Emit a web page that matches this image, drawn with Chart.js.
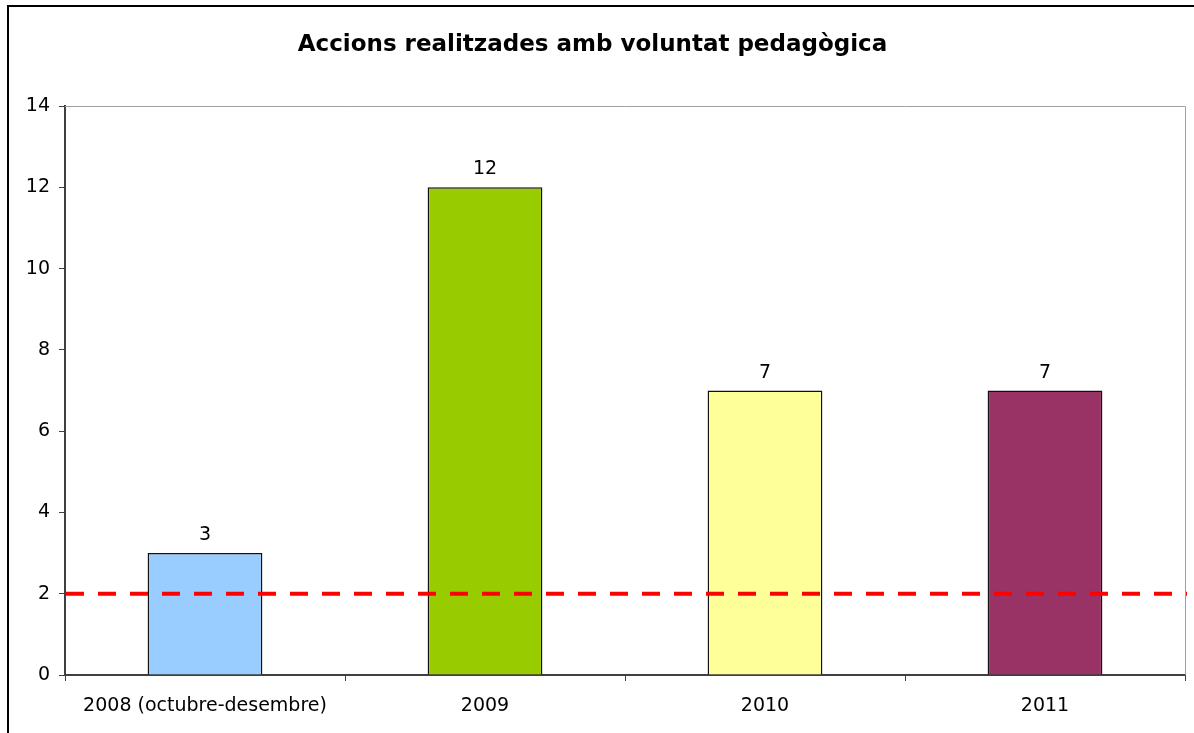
<!DOCTYPE html>
<html>
<head>
<meta charset="utf-8">
<script src="https://cdn.jsdelivr.net/npm/chart.js@4"></script>
<style>
  html, body { margin: 0; padding: 0; background: #fff; overflow: hidden; }
  #wrap { position: relative; width: 1194px; height: 733px; }
  #marc { position: absolute; left: 7px; top: 5px; width: 1200px; height: 740px; border: 2px solid #000; box-sizing: border-box; pointer-events: none; }
  canvas { position: absolute; left: 0; top: 0; }
</style>
</head>
<body>
<div id="wrap">
  <canvas id="grafic" width="1194" height="733"></canvas>
  <div id="marc"></div>
</div>
<script>
const titol = "Accions realitzades amb voluntat pedagògica";
const anys = ["2008 (octubre-desembre)", "2009", "2010", "2011"];
const accions = [3, 12, 7, 7];
const colorsBarres = ["#99ccff", "#99cc00", "#ffff99", "#993366"];
const objectiu = 2;
const escalaY = { min: 0, max: 14, pas: 2 };

const fontBase = "'DejaVu Sans', Verdana, sans-serif";

// línia discontínua vermella a l'objectiu
const liniaObjectiu = {
  id: "liniaObjectiu",
  afterDatasetsDraw(chart) {
    const { ctx, chartArea, scales } = chart;
    const y = scales.y.getPixelForValue(objectiu);
    ctx.save();
    ctx.strokeStyle = "#ff0000";
    ctx.lineWidth = 4;
    ctx.setLineDash([18, 14]);
    ctx.beginPath();
    ctx.moveTo(chartArea.left + 1, y);
    ctx.lineTo(chartArea.right + 2, y);
    ctx.stroke();
    ctx.restore();
  },
};

// vores grises de dalt i de la dreta
const voraArea = {
  id: "voraArea",
  beforeDatasetsDraw(chart) {
    const { ctx, chartArea } = chart;
    ctx.save();
    ctx.strokeStyle = "#a0a0a0";
    ctx.lineWidth = 1;
    ctx.beginPath();
    ctx.moveTo(chartArea.left, chartArea.top + 0.5);
    ctx.lineTo(chartArea.right + 0.5, chartArea.top + 0.5);
    ctx.lineTo(chartArea.right + 0.5, chartArea.bottom);
    ctx.stroke();
    ctx.restore();
  },
};

// valors damunt de les barres
const etiquetesValors = {
  id: "etiquetesValors",
  afterDatasetsDraw(chart) {
    const { ctx } = chart;
    const meta = chart.getDatasetMeta(0);
    ctx.save();
    ctx.fillStyle = "#000";
    ctx.font = "19px " + fontBase;
    ctx.textAlign = "center";
    ctx.textBaseline = "alphabetic";
    meta.data.forEach((barra, i) => {
      ctx.fillText(String(accions[i]), barra.x, barra.y - 13);
    });
    ctx.restore();
  },
};

new Chart(document.getElementById("grafic"), {
  type: "bar",
  data: {
    labels: anys,
    datasets: [
      {
        label: "Accions",
        data: accions,
        backgroundColor: colorsBarres,
        borderColor: "#111",
        borderWidth: 1.5,
        barPercentage: 0.41,
        categoryPercentage: 1,
      },
    ],
  },
  options: {
    responsive: false,
    animation: false,
    layout: { padding: { left: 0, right: 9, top: 0, bottom: 0 } },
    plugins: {
      legend: { display: false },
      tooltip: { enabled: false },
      title: {
        display: true,
        text: titol,
        color: "#000",
        font: { family: fontBase, size: 23, weight: "bold" },
        padding: { top: 31, bottom: 47.4 },
      },
    },
    scales: {
      x: {
        grid: {
          offset: true,
          drawOnChartArea: false,
          tickLength: 6,
          color: "#404040",
        },
        border: { color: "#404040", width: 2 },
        ticks: {
          color: "#000",
          font: { family: fontBase, size: 19 },
          padding: 14,
          maxRotation: 0,
        },
        afterFit: (s) => { s.height = 58; },
      },
      y: {
        min: escalaY.min,
        max: escalaY.max,
        grid: {
          drawOnChartArea: false,
          tickLength: 6,
          color: "#404040",
        },
        border: { color: "#404040", width: 2 },
        ticks: {
          stepSize: escalaY.pas,
          color: "#000",
          font: { family: fontBase, size: 19 },
          padding: 9,
        },
        afterFit: (s) => { s.width = 65; },
      },
    },
  },
  plugins: [voraArea, liniaObjectiu, etiquetesValors],
});
</script>
</body>
</html>
